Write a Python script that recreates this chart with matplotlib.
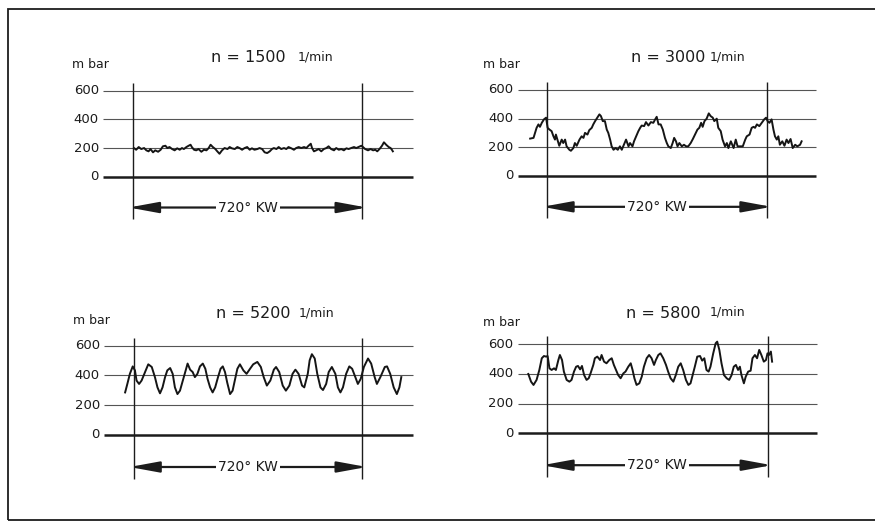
import matplotlib.pyplot as plt
from matplotlib.patches import Rectangle

plt.rcParams['font.family'] = ['DejaVu Sans']

# crank angle in degrees (0..720 = one cycle), pressure in mbar
deg_1500 = [2, 9, 17, 25, 34, 41, 48, 54, 62, 69, 78, 86, 93, 101, 107, 114, 122, 130, 138, 146,
            153, 159, 167, 174, 180, 184, 191, 198, 205, 214, 222, 230, 237, 243, 250, 258, 264, 271, 279, 287,
            296, 303, 310, 319, 327, 334, 342, 350, 358, 366, 373, 381, 390, 397, 405, 413, 421, 429, 436, 442,
            450, 457, 465, 474, 481, 488, 497, 505, 512, 520, 528, 537, 544, 551, 558, 562, 568, 575, 583, 591,
            599, 607, 614, 622, 631, 638, 646, 654, 662, 670, 677, 685, 694, 701, 708, 717, 722, 729, 738, 746,
            754, 761, 767, 774, 782, 788, 795, 803, 809, 813, 816]
p_1500 = [200, 188, 207, 193, 200, 184, 177, 193, 170, 184, 174, 188, 212, 216, 200, 207, 193, 184, 198, 188,
          200, 193, 207, 216, 223, 207, 188, 184, 193, 174, 188, 184, 200, 223, 207, 193, 177, 160, 184, 200,
          193, 207, 198, 193, 207, 200, 188, 200, 207, 188, 198, 188, 193, 200, 193, 170, 165, 177, 193, 200,
          193, 207, 193, 200, 193, 207, 198, 188, 200, 207, 200, 207, 200, 216, 230, 200, 177, 184, 193, 177,
          193, 200, 212, 193, 184, 200, 188, 193, 184, 198, 193, 200, 207, 200, 207, 216, 207, 193, 184, 193,
          184, 188, 177, 193, 216, 240, 223, 207, 200, 188, 177]

deg_3000 = [-54, -43, -38, -33, -27, -22, -16, -9, -2, 3, 9, 16, 22, 27, 30, 35, 41, 49, 54, 60,
            65, 74, 79, 87, 92, 98, 107, 114, 120, 125, 133, 139, 147, 152, 158, 165, 172, 177, 183, 190,
            196, 201, 207, 212, 218, 225, 232, 239, 245, 252, 259, 267, 272, 280, 285, 292, 299, 305, 310, 318,
            324, 332, 340, 348, 354, 359, 365, 372, 379, 386, 392, 397, 405, 411, 416, 422, 427, 433, 441, 448,
            455, 462, 470, 477, 484, 492, 498, 504, 509, 515, 522, 529, 535, 542, 547, 555, 560, 568, 574, 582,
            588, 593, 601, 610, 617, 623, 631, 640, 648, 653, 662, 669, 675, 680, 686, 694, 702, 710, 716, 721,
            727, 734, 740, 745, 751, 756, 761, 769, 776, 783, 789, 796, 803, 811, 818, 827, 832]
p_3000 = [261, 266, 301, 336, 360, 343, 371, 395, 407, 336, 324, 313, 277, 254, 289, 254, 211, 254, 230, 254,
          207, 183, 176, 195, 230, 211, 254, 277, 266, 301, 289, 320, 336, 360, 383, 407, 430, 418, 383, 383,
          324, 301, 254, 207, 183, 195, 183, 207, 183, 218, 254, 207, 230, 207, 242, 277, 312, 336, 352, 348,
          376, 352, 376, 371, 395, 413, 360, 360, 324, 266, 230, 207, 195, 230, 266, 242, 207, 230, 207, 218,
          207, 207, 230, 258, 289, 324, 336, 371, 343, 383, 400, 437, 418, 407, 383, 400, 336, 313, 254, 207,
          230, 195, 242, 195, 254, 207, 207, 207, 254, 277, 289, 336, 343, 336, 360, 348, 371, 395, 407, 383,
          371, 395, 324, 277, 254, 277, 218, 242, 211, 254, 230, 258, 195, 218, 207, 218, 242]

deg_5200 = [-28, -21, -13, -4, 3, 8, 16, 24, 37, 45, 56, 66, 74, 82, 90, 98, 105, 114, 122, 129,
            137, 145, 154, 163, 169, 177, 185, 192, 200, 208, 217, 225, 232, 240, 248, 256, 265, 273, 280, 287,
            294, 303, 311, 319, 326, 334, 345, 355, 366, 376, 389, 400, 409, 419, 430, 441, 448, 458, 469, 479,
            490, 500, 509, 519, 530, 537, 548, 554, 561, 570, 578, 588, 596, 606, 614, 624, 635, 643, 651, 659,
            669, 679, 688, 698, 706, 715, 725, 738, 748, 759, 766, 777, 791, 798, 808, 819, 829, 837, 843]
p_5200 = [286, 343, 411, 461, 434, 366, 343, 366, 434, 475, 457, 389, 320, 280, 320, 389, 434, 450, 411, 320,
          275, 298, 366, 434, 480, 439, 423, 389, 411, 461, 480, 445, 377, 320, 286, 320, 389, 445, 461, 423,
          352, 275, 298, 377, 445, 475, 434, 411, 445, 475, 491, 457, 389, 332, 366, 439, 457, 423, 332, 298,
          332, 411, 439, 411, 332, 320, 411, 502, 543, 514, 411, 320, 302, 343, 423, 457, 411, 320, 286, 320,
          411, 461, 445, 389, 343, 377, 457, 514, 480, 389, 343, 389, 457, 461, 411, 320, 275, 320, 389]

deg_5800 = [-60, -51, -43, -33, -24, -16, -9, -2, 3, 9, 16, 24, 30, 38, 43, 50, 56, 65, 74, 81,
            89, 96, 102, 109, 115, 122, 130, 137, 143, 152, 157, 165, 174, 179, 187, 195, 204, 212, 219, 226,
            233, 241, 250, 257, 266, 274, 280, 286, 293, 302, 310, 317, 326, 334, 342, 350, 356, 364, 371, 380,
            389, 396, 404, 413, 421, 429, 437, 445, 454, 462, 469, 476, 483, 491, 500, 507, 514, 521, 528, 534,
            543, 551, 556, 563, 570, 578, 587, 595, 603, 610, 617, 624, 630, 635, 643, 649, 657, 665, 671, 679,
            686, 693, 700, 708, 715, 720, 725, 731, 735]
p_5800 = [400, 348, 326, 360, 427, 506, 521, 517, 521, 438, 427, 438, 427, 494, 528, 494, 416, 360, 348, 360,
          416, 449, 454, 431, 454, 393, 360, 371, 404, 461, 506, 517, 494, 528, 483, 472, 494, 506, 461, 427,
          393, 371, 404, 416, 449, 472, 427, 371, 326, 337, 382, 449, 506, 528, 506, 461, 494, 528, 539, 506,
          461, 416, 371, 348, 393, 449, 472, 427, 360, 326, 337, 393, 449, 517, 521, 490, 506, 427, 416, 449,
          539, 607, 618, 562, 472, 393, 371, 360, 393, 449, 461, 427, 449, 393, 337, 382, 416, 422, 506, 528,
          506, 562, 528, 483, 494, 539, 528, 551, 483]

panels = [
    # speed, deg, p, pixel box (left vline, right vline, y of 0, y of 600)
    ('1500', deg_1500, p_1500, (133.3, 362.3, 176.7, 90.7)),
    ('3000', deg_3000, p_3000, (546.7, 767.3, 176.0, 90.0)),
    ('5200', deg_5200, p_5200, (134.0, 362.3, 435.0, 345.7)),
    ('5800', deg_5800, p_5800, (546.7, 767.5, 433.3, 344.3)),
]

# text positions in pixels: (m bar x, m bar y, title x, title y, 1/min x)
text_pos = [
    (72, 65, 211, 58, 298),
    (483, 65, 631, 58, 710),
    (73, 320, 216, 314, 299),
    (483, 322, 626, 313, 710),
]

W, H = 875, 528
ink = '#1c1c1c'

fig = plt.figure(figsize=(W / 100, H / 100), dpi=100)
fig.patch.set_facecolor('white')

# outer frame (right side runs off the picture)
fig.patches.append(Rectangle((8 / W, 1 - 520 / H), 880 / W, 511 / H, transform=fig.transFigure,
                             fill=False, ec=ink, lw=1.3))


def fx(x):
    return x / W


def fy(y):
    return 1 - y / H


for (speed, deg, p, box), (mx, my, tx, ty, ux) in zip(panels, text_pos):
    xl, xr, y0, y600 = box
    sx = (xr - xl) / 720
    sy = (y0 - y600) / 600
    left = xl - 120 * sx
    right = xl + 900 * sx
    top = y0 - 700 * sy
    bottom = y0 + 350 * sy
    ax = fig.add_axes([fx(left), fy(bottom), (right - left) / W, (bottom - top) / H])
    ax.set_xlim(-120, 900)
    ax.set_ylim(-350, 700)
    ax.axis('off')

    ax.hlines([200, 400, 600], -95, 880, color='#555555', lw=0.8)
    ax.hlines(0, -95, 880, color=ink, lw=1.8)
    ax.vlines([0, 720], -295, 655, color=ink, lw=1.0)
    for v in [0, 200, 400, 600]:
        ax.text(-108, v, str(v), ha='right', va='center', fontsize=9.5, color=ink)

    ax.plot(deg, p, color='#151515', lw=1.4, solid_joinstyle='round')

    # arrow tips land a few px short of the end points, so reach slightly past the cycle lines
    ax.annotate('', xy=(-14, -215), xytext=(734, -215),
                arrowprops=dict(arrowstyle='<|-|>,head_length=1.2,head_width=0.22',
                                mutation_scale=15, color=ink, lw=1.6, shrinkA=0, shrinkB=0))
    ax.text(360, -215, '720° KW', ha='center', va='center', fontsize=10, color=ink,
            bbox=dict(fc='white', ec='none', pad=1.5))

    fig.text(fx(mx), fy(my), 'm bar', ha='left', va='center', fontsize=9, color=ink)
    fig.text(fx(tx), fy(ty), 'n = ' + speed, ha='left', va='center', fontsize=11.5, color=ink)
    fig.text(fx(ux), fy(ty - 1), '1/min', ha='left', va='center', fontsize=9, color=ink)

fig.savefig('out.png', dpi=100, facecolor='white')
